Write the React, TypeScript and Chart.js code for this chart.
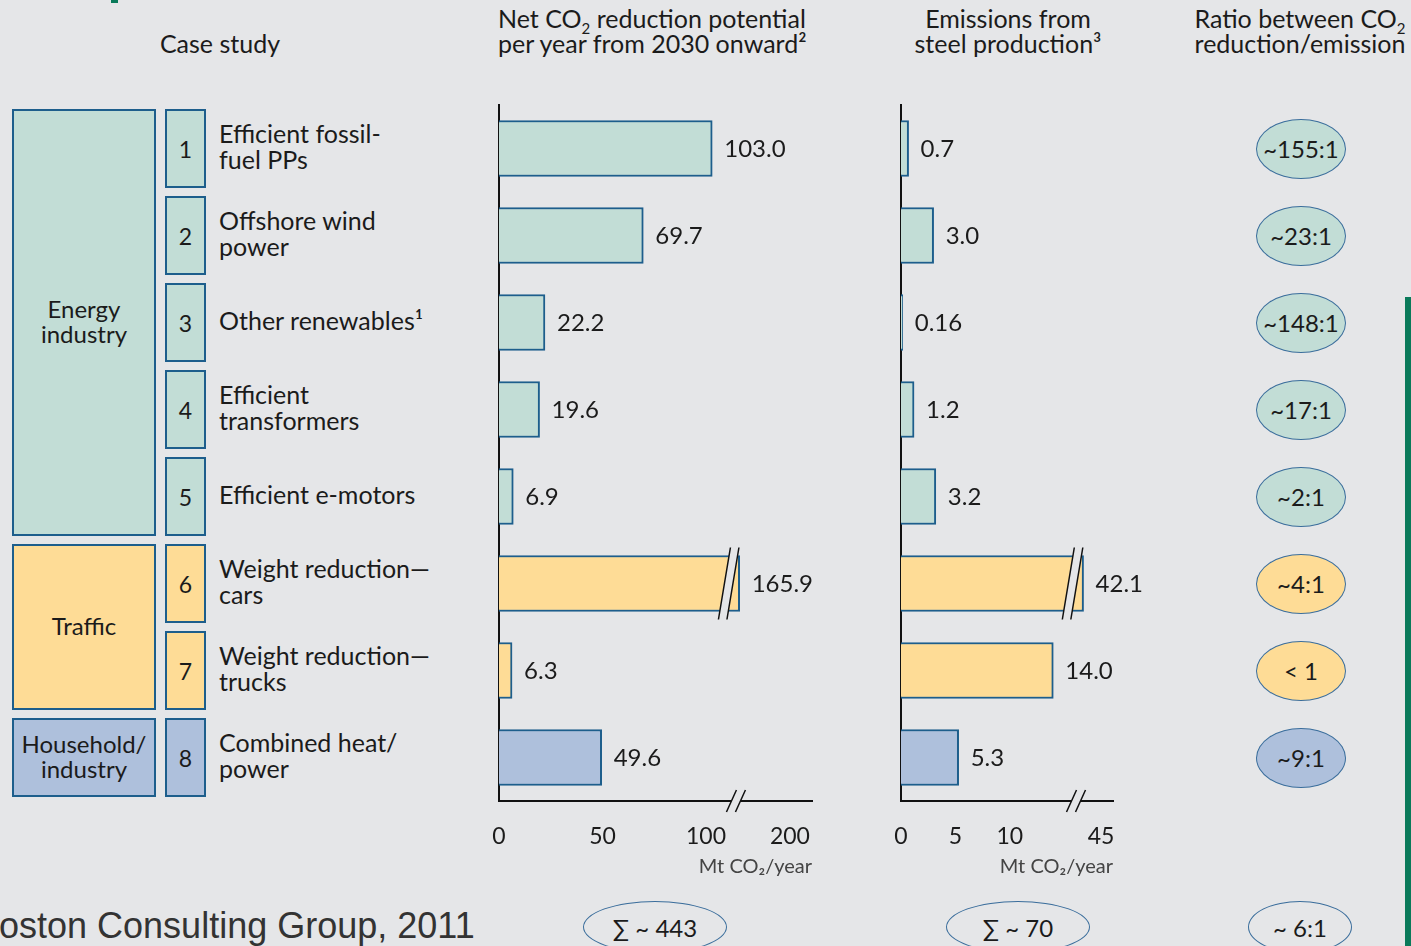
import React, { useEffect, useRef } from "react";
import { Chart, registerables, LinearScale } from "chart.js";

// ---------------- data ----------------
const caseStudies = [
  "Efficient fossil-\nfuel PPs",
  "Offshore wind\npower",
  "Other renewables¹",
  "Efficient\ntransformers",
  "Efficient e-motors",
  "Weight reduction—\ncars",
  "Weight reduction—\ntrucks",
  "Combined heat/\npower",
];
const reductionMt = [103.0, 69.7, 22.2, 19.6, 6.9, 165.9, 6.3, 49.6];
const steelEmissionMt = [0.7, 3.0, 0.16, 1.2, 3.2, 42.1, 14.0, 5.3];
const ratioLabels = ["~155:1", "~23:1", "~148:1", "~17:1", "~2:1", "~4:1", "< 1", "~9:1"];
const sectorNames = ["Energy\nindustry", "Traffic", "Household/\nindustry"];
const sectorOfRow = [0, 0, 0, 0, 0, 1, 1, 2];
const reductionTicks = [0, 50, 100, 200];
const emissionTicks = [0, 5, 10, 45];
const totalLabels = ["∑ ~ 443", "∑ ~ 70", "~ 6:1"];

// broken-axis definitions: [value, fraction of axis width]
const breakKnots: Record<string, number[][]> = {
  reduction: [[0, 0], [114, 0.754], [164, 0.76], [215, 1]],
  emission: [[0, 0], [16, 0.821], [41, 0.83], [47, 1]],
};

// ---------------- styles ----------------
const FONT = "Lato, 'Noto Sans', sans-serif";
const BG = "#E5E6E8";
const EDGE = "#1D5E8C";
const TEXT = "#1b1b1b";
const sectorColors = ["#C2DDD6", "#FEDC96", "#AEC0DC"];

const PLOT_TOP = 105;
const ROW_H = 87;
const CANVAS_TOP = 90;
const CANVAS_H = 810;
const rowCenter = (i: number) => PLOT_TOP + ROW_H * (i + 0.5);

// ---------------- broken linear scale ----------------
function interp(knots: number[][], v: number) {
  for (let i = 1; i < knots.length; i++) {
    const [v0, f0] = knots[i - 1];
    const [v1, f1] = knots[i];
    if (v <= v1 || i === knots.length - 1) return f0 + ((v - v0) / (v1 - v0)) * (f1 - f0);
  }
  return 0;
}
function interpInv(knots: number[][], f: number) {
  for (let i = 1; i < knots.length; i++) {
    const [v0, f0] = knots[i - 1];
    const [v1, f1] = knots[i];
    if (f <= f1 || i === knots.length - 1) return v0 + ((f - f0) / (f1 - f0)) * (v1 - v0);
  }
  return 0;
}

class BrokenScale extends LinearScale {
  static id = "broken";
  static defaults = { ticks: { callback: (v: any) => String(v) } };
  knots(): number[][] {
    return breakKnots[(this.options as any).breakKey] || [[0, 0], [1, 1]];
  }
  getPixelForValue(value: number) {
    if (value === null || value === undefined || isNaN(value)) return NaN;
    return this.getPixelForDecimal(interp(this.knots(), value));
  }
  getValueForPixel(pixel: number) {
    return interpInv(this.knots(), this.getDecimalForPixel(pixel));
  }
}

Chart.register(...registerables, BrokenScale as any);

function fmt(v: number) {
  return Math.abs(v * 10 - Math.round(v * 10)) < 1e-9 ? v.toFixed(1) : String(v);
}

function drawSlashes(ctx: CanvasRenderingContext2D, cx: number, cy: number, half: number, dx: number, gap: number) {
  const a = cx - gap / 2;
  const b = cx + gap / 2;
  ctx.beginPath();
  ctx.moveTo(a - dx, cy + half);
  ctx.lineTo(a + dx, cy - half);
  ctx.lineTo(b + dx, cy - half);
  ctx.lineTo(b - dx, cy + half);
  ctx.closePath();
  ctx.fillStyle = BG;
  ctx.fill();
  ctx.strokeStyle = "#111";
  ctx.lineWidth = 1.5;
  ctx.beginPath();
  ctx.moveTo(a - dx, cy + half);
  ctx.lineTo(a + dx, cy - half);
  ctx.moveTo(b - dx, cy + half);
  ctx.lineTo(b + dx, cy - half);
  ctx.stroke();
}

const overlayPlugin = {
  id: "overlay",
  afterDatasetsDraw(chart: any, _args: any, opts: any) {
    const ctx = chart.ctx as CanvasRenderingContext2D;
    const meta = chart.getDatasetMeta(0);
    const data = chart.data.datasets[0].data as number[];
    ctx.save();
    meta.data.forEach((bar: any, i: number) => {
      const { x, y, height } = bar.getProps(["x", "y", "height"], true);
      if (data[i] > opts.breakStart) drawSlashes(ctx, x - 11, y, height / 2 + 8, 6, 8.5);
    });
    ctx.font = `24px ${FONT}`;
    ctx.fillStyle = TEXT;
    ctx.textBaseline = "middle";
    ctx.textAlign = "left";
    meta.data.forEach((bar: any, i: number) => {
      const { x, y } = bar.getProps(["x", "y"], true);
      ctx.fillText(fmt(data[i]), x + 12, y + 1);
    });
    ctx.restore();
  },
  afterDraw(chart: any, _args: any, opts: any) {
    const ctx = chart.ctx as CanvasRenderingContext2D;
    const px = chart.scales.x.getPixelForValue(opts.breakMid);
    ctx.save();
    drawSlashes(ctx, px, chart.chartArea.bottom, 11, 5, 9);
    ctx.restore();
  },
};

function BarPanel(props: {
  left: number;
  width: number;
  values: number[];
  ticks: number[];
  breakKey: string;
  breakStart: number;
  breakMid: number;
  padLeft: number;
  padRight: number;
}) {
  const ref = useRef<HTMLCanvasElement>(null);
  useEffect(() => {
    const knots = breakKnots[props.breakKey];
    const chart = new Chart(ref.current as HTMLCanvasElement, {
      type: "bar",
      data: {
        labels: caseStudies,
        datasets: [
          {
            data: props.values,
            backgroundColor: sectorOfRow.map((s) => sectorColors[s]),
            borderColor: EDGE,
            borderWidth: 2,
            borderSkipped: "start",
            barThickness: 56,
          },
        ],
      },
      options: {
        indexAxis: "y",
        responsive: false,
        maintainAspectRatio: false,
        animation: false,
        events: [],
        layout: {
          padding: { left: props.padLeft, right: props.padRight, top: PLOT_TOP - CANVAS_TOP, bottom: 0 },
        },
        plugins: {
          legend: { display: false },
          tooltip: { enabled: false },
          overlay: { breakStart: props.breakStart, breakMid: props.breakMid },
        } as any,
        scales: {
          y: {
            type: "category",
            offset: true,
            grid: { display: false, drawTicks: false },
            ticks: { display: false },
            border: { display: true, color: "#111", width: 2 },
            afterFit: (s: any) => {
              s.width = 0;
            },
            z: 1,
          },
          x: {
            type: "broken",
            breakKey: props.breakKey,
            min: 0,
            max: knots[knots.length - 1][0],
            grid: { display: false, drawTicks: false },
            border: { display: true, color: "#111", width: 2 },
            ticks: {
              font: { family: FONT, size: 23 },
              color: TEXT,
              padding: 22,
              maxRotation: 0,
              autoSkip: false,
              callback: (v: any) => String(v),
            },
            afterBuildTicks: (s: any) => {
              s.ticks = props.ticks.map((v) => ({ value: v }));
            },
            title: {
              display: true,
              text: "Mt CO₂/year",
              align: "end",
              font: { family: FONT, size: 20 },
              color: "#444",
              padding: { top: 0, bottom: 21 },
            },
            afterFit: (s: any) => {
              s.height = CANVAS_TOP + CANVAS_H - (PLOT_TOP + ROW_H * 8);
              s.paddingLeft = 0;
              s.paddingRight = 0;
            },
            z: 1,
          } as any,
        },
      },
      plugins: [overlayPlugin as any],
    });
    return () => chart.destroy();
  }, []);
  return (
    <canvas
      ref={ref}
      width={props.width}
      height={CANVAS_H}
      style={{ position: "absolute", left: props.left, top: CANVAS_TOP, width: props.width, height: CANVAS_H }}
    />
  );
}

const abs = (o: React.CSSProperties): React.CSSProperties => ({ position: "absolute", ...o });

export default function App() {
  const boxTop = (i: number) => rowCenter(i) - 39.5;
  const sectorSpans = sectorNames.map((_, s) => {
    const rows = sectorOfRow.map((r, i) => (r === s ? i : -1)).filter((i) => i >= 0);
    return [rows[0], rows[rows.length - 1]];
  });
  const sub = <sub style={{ fontSize: 15, verticalAlign: -6, lineHeight: 0 }}>2</sub>;

  return (
    <div
      style={{
        position: "fixed",
        left: 0,
        top: 0,
        width: 1411,
        height: 946,
        overflow: "hidden",
        background: BG,
        fontFamily: FONT,
        color: TEXT,
      }}
    >
      {/* decorative slide elements */}
      <div style={abs({ left: 111, top: 0, width: 7, height: 3, background: "#0A7A5A" })} />
      <div style={abs({ left: 1405, top: 297, width: 6, height: 649, background: "#0A7A5A" })} />

      {/* headers */}
      <div style={abs({ left: 0, top: 30, width: 440, textAlign: "center", fontSize: 25, lineHeight: "27px" })}>
        Case study
      </div>
      <div style={abs({ left: 498, top: 6, fontSize: 25, lineHeight: "25px", whiteSpace: "nowrap" })}>
        Net CO{sub} reduction potential
        <br />
        per year from 2030 onward²
      </div>
      <div style={abs({ left: 858, top: 6, width: 300, textAlign: "center", fontSize: 25, lineHeight: "25px" })}>
        Emissions from
        <br />
        steel production³
      </div>
      <div
        style={abs({ left: 1150, top: 6, width: 300, textAlign: "center", fontSize: 25, lineHeight: "25px", whiteSpace: "nowrap" })}
      >
        Ratio between CO{sub}
        <br />
        reduction/emission
      </div>

      {/* sector boxes */}
      {sectorNames.map((name, s) => {
        const [a, b] = sectorSpans[s];
        const top = boxTop(a);
        const h = boxTop(b) + 79 - top;
        return (
          <div
            key={name}
            style={abs({
              left: 12,
              top,
              width: 144,
              height: h,
              boxSizing: "border-box",
              border: `2px solid ${EDGE}`,
              background: sectorColors[s],
              display: "flex",
              alignItems: "center",
              justifyContent: "center",
              textAlign: "center",
              whiteSpace: "pre",
              fontSize: 24,
              lineHeight: "25px",
              paddingBottom: 3,
            })}
          >
            {name}
          </div>
        );
      })}

      {/* number boxes + case names */}
      {caseStudies.map((name, i) => (
        <React.Fragment key={i}>
          <div
            style={abs({
              left: 165,
              top: boxTop(i),
              width: 41,
              height: 79,
              boxSizing: "border-box",
              border: `2px solid ${EDGE}`,
              background: sectorColors[sectorOfRow[i]],
              display: "flex",
              alignItems: "center",
              justifyContent: "center",
              fontSize: 23,
            })}
          >
            {i + 1}
          </div>
          <div
            style={abs({
              left: 219,
              top: rowCenter(i) - (name.split("\n").length * 26) / 2 - 3,
              fontSize: 25,
              lineHeight: "26px",
              whiteSpace: "pre",
            })}
          >
            {name}
          </div>
        </React.Fragment>
      ))}

      {/* charts */}
      <BarPanel
        left={480}
        width={360}
        values={reductionMt}
        ticks={reductionTicks}
        breakKey="reduction"
        breakStart={114}
        breakMid={139}
        padLeft={19}
        padRight={28}
      />
      <BarPanel
        left={880}
        width={280}
        values={steelEmissionMt}
        ticks={emissionTicks}
        breakKey="emission"
        breakStart={16}
        breakMid={28.5}
        padLeft={21}
        padRight={47}
      />

      {/* ratio ovals */}
      {ratioLabels.map((r, i) => (
        <div
          key={r + i}
          style={abs({
            left: 1256,
            top: rowCenter(i) - 30,
            width: 90,
            height: 60,
            boxSizing: "border-box",
            borderRadius: "50%",
            border: "1.5px solid #3B6E9C",
            background: sectorColors[sectorOfRow[i]],
            display: "flex",
            alignItems: "center",
            justifyContent: "center",
            fontSize: 24,
          })}
        >
          {r}
        </div>
      ))}

      {/* totals */}
      {totalLabels.map((t, k) => {
        const cx = [655, 1018, 1300][k];
        const w = [144, 144, 104][k];
        return (
          <div
            key={t}
            style={abs({
              left: cx - w / 2,
              top: 901,
              width: w,
              height: 52,
              boxSizing: "border-box",
              borderRadius: "50%",
              border: "1.5px solid #3B6E9C",
              display: "flex",
              alignItems: "center",
              justifyContent: "center",
              fontSize: 24,
            })}
          >
            {t}
          </div>
        );
      })}

      {/* source */}
      <div
        style={abs({
          left: -25,
          top: 905,
          fontFamily: "'Liberation Sans', Arial, sans-serif",
          fontSize: 36,
          lineHeight: "42px",
          color: "#333",
          whiteSpace: "nowrap",
        })}
      >
        Boston Consulting Group, 2011
      </div>
    </div>
  );
}
